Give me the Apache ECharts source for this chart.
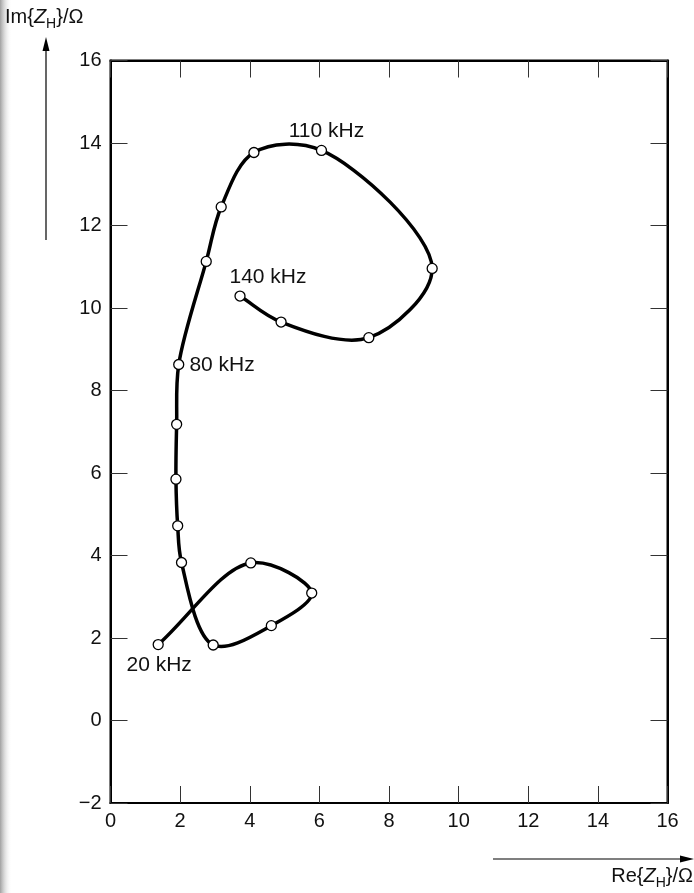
<!DOCTYPE html>
<html>
<head>
<meta charset="utf-8">
<title>Impedance locus Z_H</title>
<script src="https://cdn.jsdelivr.net/npm/echarts@6/dist/echarts.min.js"></script>
<style>
  html, body { margin: 0; padding: 0; background: #fff; }
  #chart { width: 694px; height: 893px; }
</style>
</head>
<body>
<div id="chart"></div>
<script>
// Measured impedance locus, ordered by frequency (20 kHz ... 140 kHz)
const reValues = [1.37, 4.03, 5.78, 4.62, 2.95, 2.04, 1.93, 1.88, 1.90, 1.96, 2.75, 3.18, 4.12, 6.06, 9.24, 7.42, 4.90, 3.72];
const imValues = [1.84, 3.82, 3.09, 2.30, 1.83, 3.83, 4.72, 5.85, 7.18, 8.63, 11.13, 12.45, 13.77, 13.82, 10.96, 9.28, 9.66, 10.29];
const freqLabels = ['20 kHz', '', '', '', '', '', '', '', '', '80 kHz', '', '', '', '110 kHz', '', '', '', '140 kHz'];

// Axis ticks
const xTicks = [0, 2, 4, 6, 8, 10, 12, 14, 16];
const yTicks = [-2, 0, 2, 4, 6, 8, 10, 12, 14, 16];

const FONT = '"Liberation Sans", Arial, Helvetica, sans-serif';
const ALPHA = 0.5;   // centripetal Catmull-Rom parametrisation

// Where each frequency label sits relative to its point
const labelPlacement = {
  '20 kHz':  { position: 'bottom', distance: 4, offset: [1, 0] },
  '80 kHz':  { position: 'right',  distance: 5, offset: [0, 1] },
  '110 kHz': { position: 'top',    distance: 3, offset: [5, 0] },
  '140 kHz': { position: 'top',    distance: 3, offset: [28, 0] }
};

const n = reValues.length;
const pairs = reValues.map((re, i) => [re, imValues[i]]);

const points = pairs.map((v, i) => {
  const txt = freqLabels[i];
  const item = { value: v };
  if (txt) {
    const p = labelPlacement[txt];
    item.label = {
      show: true,
      formatter: txt,
      position: p.position,
      distance: p.distance,
      offset: p.offset,
      color: '#111',
      fontSize: 21,
      fontFamily: FONT
    };
  }
  return item;
});

const dist = (a, b) => Math.hypot(a[0] - b[0], a[1] - b[1]);

// Pixel position of locus point i; ends are mirrored to give end tangents
function pixelAt(api, i) {
  if (i < 0) {
    const a = api.coord(pairs[0]), b = api.coord(pairs[1]);
    return [2 * a[0] - b[0], 2 * a[1] - b[1]];
  }
  if (i > n - 1) {
    const a = api.coord(pairs[n - 1]), b = api.coord(pairs[n - 2]);
    return [2 * a[0] - b[0], 2 * a[1] - b[1]];
  }
  return api.coord(pairs[i]);
}

// One cubic segment from point i to point i+1 (centripetal Catmull-Rom)
function renderSegment(params, api) {
  const i = params.dataIndex;
  if (i >= n - 1) return null;
  const P0 = pixelAt(api, i - 1), P1 = pixelAt(api, i);
  const P2 = pixelAt(api, i + 1), P3 = pixelAt(api, i + 2);
  const d01 = Math.pow(dist(P0, P1), ALPHA) || 1e-6;
  const d12 = Math.pow(dist(P1, P2), ALPHA) || 1e-6;
  const d23 = Math.pow(dist(P2, P3), ALPHA) || 1e-6;
  const m1 = [0, 1].map(k => d12 * ((P1[k] - P0[k]) / d01 - (P2[k] - P0[k]) / (d01 + d12) + (P2[k] - P1[k]) / d12));
  const m2 = [0, 1].map(k => d12 * ((P2[k] - P1[k]) / d12 - (P3[k] - P1[k]) / (d12 + d23) + (P3[k] - P2[k]) / d23));
  return {
    type: 'bezierCurve',
    shape: {
      x1: P1[0], y1: P1[1],
      x2: P2[0], y2: P2[1],
      cpx1: P1[0] + m1[0] / 3,
      cpy1: P1[1] + m1[1] / 3,
      cpx2: P2[0] - m2[0] / 3,
      cpy2: P2[1] - m2[1] / 3
    },
    style: { stroke: '#000', lineWidth: 3.5, fill: 'none', lineCap: 'round', lineJoin: 'round' }
  };
}

const fmt = v => (v < 0 ? '\u2212' + Math.abs(v) : String(v));

const tickStyle = { show: true, inside: true, length: 17, lineStyle: { color: '#333', width: 1 } };

function valueAxis(ticks, position, showLabels, margin) {
  return {
    type: 'value',
    position: position,
    min: ticks[0],
    max: ticks[ticks.length - 1],
    interval: ticks[1] - ticks[0],
    axisLine: { show: true, onZero: false, lineStyle: { color: '#000', width: 2 } },
    axisTick: tickStyle,
    splitLine: { show: false },
    axisLabel: {
      show: showLabels,
      formatter: fmt,
      margin: margin,
      color: '#111',
      fontSize: 20,
      fontFamily: FONT
    }
  };
}

const chart = echarts.init(document.getElementById('chart'), null, { renderer: 'canvas' });

const titleRich = {
  n: { fontSize: 20, fontFamily: FONT, color: '#111', lineHeight: 22 },
  z: { fontSize: 20, fontFamily: FONT, color: '#111', fontStyle: 'italic', lineHeight: 22 },
  s: { fontSize: 14, fontFamily: FONT, color: '#111', lineHeight: 14, padding: [13, 0, 0, 0] }
};

chart.setOption({
  backgroundColor: '#fff',
  animation: false,
  grid: { left: 110.5, right: 26.5, top: 60.5, bottom: 90, show: true, borderColor: '#000', borderWidth: 2 },
  xAxis: [
    valueAxis(xTicks, 'bottom', true, 8),
    valueAxis(xTicks, 'top', false, 8)
  ],
  yAxis: [
    valueAxis(yTicks, 'left', true, 9),
    valueAxis(yTicks, 'right', false, 9)
  ],
  series: [
    {
      type: 'custom',
      xAxisIndex: 0,
      yAxisIndex: 0,
      data: pairs,
      encode: { x: 0, y: 1 },
      renderItem: renderSegment,
      silent: true,
      z: 2
    },
    {
      type: 'scatter',
      xAxisIndex: 0,
      yAxisIndex: 0,
      data: points,
      symbol: 'circle',
      symbolSize: 10,
      itemStyle: { color: '#fff', borderColor: '#000', borderWidth: 1.3, opacity: 1 },
      z: 3
    }
  ],
  graphic: [
    // scanner shadow along the left edge of the page
    {
      type: 'rect', left: 0, top: 0, z: 0,
      shape: { width: 12, height: 893 },
      style: {
        fill: new echarts.graphic.LinearGradient(0, 0, 1, 0, [
          { offset: 0, color: 'rgba(120,120,120,0.7)' },
          { offset: 1, color: 'rgba(255,255,255,0)' }
        ])
      }
    },
    // vertical axis arrow
    { type: 'line', shape: { x1: 46, y1: 240, x2: 46, y2: 48 }, style: { stroke: '#000', lineWidth: 1.2 } },
    { type: 'polygon', shape: { points: [[46, 37], [42.5, 51], [49.5, 51]] }, style: { fill: '#000' } },
    // horizontal axis arrow
    { type: 'line', shape: { x1: 493, y1: 859, x2: 682, y2: 859 }, style: { stroke: '#000', lineWidth: 1.2 } },
    { type: 'polygon', shape: { points: [[694, 859], [680, 855.5], [680, 862.5]] }, style: { fill: '#000' } },
    // axis titles
    {
      type: 'text', left: 5, top: 4,
      style: { text: '{n|Im{}{z|Z}{s|H}}/\u03A9', rich: titleRich, font: '20px ' + FONT, fill: '#111' }
    },
    {
      type: 'text', right: 1, top: 863,
      style: { text: '{n|Re{}{z|Z}{s|H}}/\u03A9', rich: titleRich, font: '20px ' + FONT, fill: '#111' }
    }
  ]
});
</script>
</body>
</html>
